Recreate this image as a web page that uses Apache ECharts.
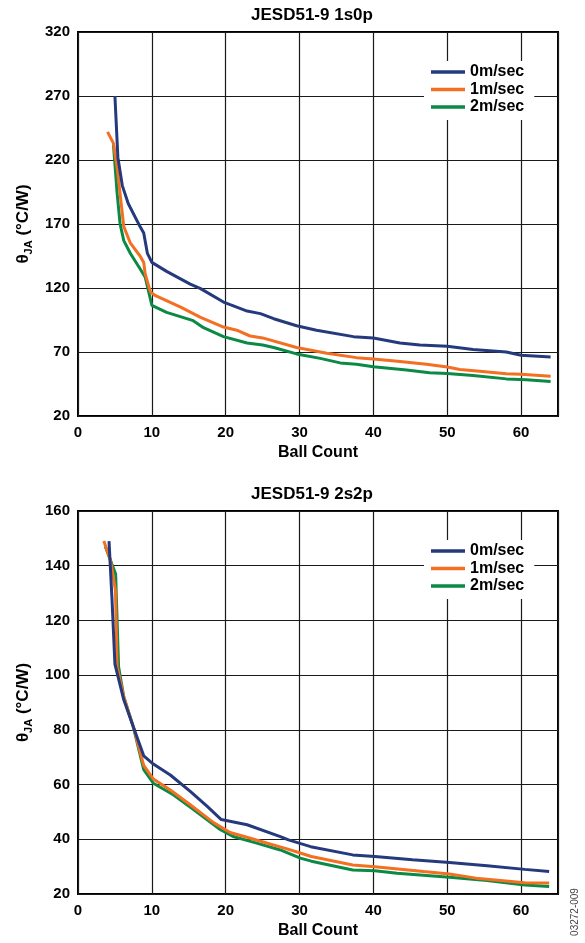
<!DOCTYPE html>
<html><head><meta charset="utf-8">
<script src="https://cdn.jsdelivr.net/npm/echarts@6/dist/echarts.min.js"></script>
<style>html,body{margin:0;padding:0;background:#fff}#c{width:585px;height:943px}</style>
</head><body><div id="c"></div>
<script>
// ---- data ----
const seriesNames = ['0m/sec', '1m/sec', '2m/sec'];
const seriesColors = ['#243a7d', '#f36f21', '#0a8a44'];
const chartTitles = ['JESD51-9 1s0p', 'JESD51-9 2s2p'];
const xAxisName = 'Ball Count';
const sideLabel = '03272-009';

// JESD51-9 1s0p  [ball count, thetaJA]
const top0 = [[5,270],[5.4,222],[6,200],[6.8,186],[8.4,168],[8.9,163],[9.4,147],[10,140],[12,133],[15.2,123],[16.6,119.5],[19.7,109],[20.6,107],[22.9,102],[24.7,100],[26.5,96],[29.6,90.5],[32.3,87],[37.3,82],[40,81],[43.6,77],[46.3,75.5],[50,74.5],[53.5,72],[58,70],[60,67.5],[64,66]];
const top1 = [[4,242],[4.8,233],[5.3,214],[6.2,168],[7.1,155],[8.4,145],[8.9,140],[9.1,131],[9.8,117],[10.5,114],[13.9,105],[16.6,97],[19.7,89.5],[21.5,87],[23.3,82.5],[25,81],[29.6,73.5],[33.7,69],[37.7,65.6],[40,64.5],[43.6,62.5],[47.2,60.4],[50,58.3],[51.7,56.3],[54.4,55],[58,53],[60,52.6],[64,51]];
const top2 = [[4.8,232],[5.3,194],[5.7,170],[6.2,157],[7.1,147],[8.4,135],[9.1,128.5],[10,106.5],[12,101],[15.6,94.5],[17,89],[19.7,82],[22.9,77],[25,75.5],[26.5,73.5],[29.6,68.5],[32.8,65],[35.5,61.5],[37.7,60.5],[40,58.5],[44.5,56],[47.6,53.8],[50,53.2],[53.5,51.6],[58,49],[60.7,48.4],[64,47]];

// JESD51-9 2s2p
const bot0 = [[4.2,149],[4.6,128],[5,104],[6.2,91],[7.5,81],[8.9,70.5],[10.2,67.5],[12.5,63.5],[15.2,57.5],[17.5,52],[19.4,47.2],[22.9,45.3],[27.4,41],[28.5,39.8],[31.5,37.3],[37.2,34.3],[40.2,33.7],[45.3,32.5],[50.3,31.5],[55.4,30.3],[60.5,29],[63.8,28.2]];
const bot1 = [[3.5,149],[4.4,142],[5.07,131],[5.3,103],[6.2,92],[7.5,81],[8.9,67],[10.2,62],[12.5,58],[15.2,52.6],[18.4,46],[20.6,42.5],[23.8,40],[28.3,36.5],[30.1,35],[31.6,33.7],[37.2,30.6],[40.2,30],[46.8,28.2],[50.3,27.3],[53.9,25.8],[60.5,24.1],[63.8,24]];
const bot2 = [[3.7,147],[4.6,140.5],[5.1,137],[5.2,128],[5.5,103],[6.2,92],[7.5,81],[8.9,65.5],[10.2,60.5],[12.9,56.3],[15.6,51],[19.3,43.5],[21,41],[24.2,38.6],[27.4,36.1],[30.1,33.1],[31.6,32],[37.2,28.8],[40.2,28.5],[43.2,27.6],[50.3,26.1],[55.4,24.9],[60.5,23.3],[63.8,22.7]];

const xRange = {min: 0, max: 65, interval: 10};
const yRanges = [{min: 20, max: 320, interval: 50}, {min: 20, max: 160, interval: 20}];

// ---- chart ----
const F = 'Arial, "Liberation Sans", sans-serif';
const gridTops = [32, 511];
const gridH = [384, 383];
const chart = echarts.init(document.getElementById('c'), null, {renderer: 'canvas'});

const grids = gridTops.map((t, i) => ({
  left: 78, top: t, width: 480, height: gridH[i],
  show: true, borderColor: '#000', borderWidth: 2, backgroundColor: 'transparent'
}));

const xAxes = [0, 1].map(i => ({
  type: 'value', gridIndex: i, min: xRange.min, max: xRange.max, interval: xRange.interval,
  name: xAxisName, nameLocation: 'middle', nameGap: 29,
  nameTextStyle: {fontFamily: F, fontSize: 16, fontWeight: 'bold', color: '#000'},
  axisLine: {show: false}, axisTick: {show: false},
  axisLabel: {showMaxLabel: false, margin: 9, fontFamily: F, fontSize: 15, fontWeight: 'bold', color: '#000'},
  splitLine: {show: true, lineStyle: {color: '#1a1a1a', width: 1.2}}
}));

const yName = '{a|θ}{b|JA}{a| (°C/W)}';
const yAxes = [0, 1].map(i => ({
  type: 'value', gridIndex: i, min: yRanges[i].min, max: yRanges[i].max, interval: yRanges[i].interval,
  name: yName, nameLocation: 'middle', nameGap: 43, nameRotate: 90,
  nameTextStyle: {
    rich: {
      a: {fontFamily: F, fontSize: 17, fontWeight: 'bold', color: '#000', lineHeight: 21},
      b: {fontFamily: F, fontSize: 11, fontWeight: 'bold', color: '#000', lineHeight: 11, verticalAlign: 'bottom'}
    }
  },
  axisLine: {show: false}, axisTick: {show: false},
  axisLabel: {margin: 8, fontFamily: F, fontSize: 15, fontWeight: 'bold', color: '#000'},
  splitLine: {show: true, lineStyle: {color: '#1a1a1a', width: 1.2}}
}));

const dataSets = [[top0, top1, top2], [bot0, bot1, bot2]];
const series = [];
[0, 1].forEach(g => {
  [2, 1, 0].forEach(k => {
    series.push({
      type: 'line', name: seriesNames[k], xAxisIndex: g, yAxisIndex: g,
      data: dataSets[g][k], symbol: 'none', smooth: false, z: 3 + (2 - k),
      lineStyle: {color: seriesColors[k], width: 3},
      itemStyle: {color: seriesColors[k]}
    });
  });
});

const legends = gridTops.map(t => ({
  orient: 'vertical', left: 424, top: t + 29, data: seriesNames,
  icon: 'rect', itemWidth: 34, itemHeight: 3.5, itemGap: 1.5,
  padding: [3, 10, 5, 7], backgroundColor: '#fff',
  textStyle: {fontFamily: F, fontSize: 16, fontWeight: 'bold', color: '#000', lineHeight: 15},
  selectedMode: false
}));

const graphics = chartTitles.map((txt, i) => ({
  type: 'text', x: 312, y: gridTops[i] - 17, z: 10,
  style: {text: txt, fontFamily: F, fontSize: 17, fontWeight: 'bold', fill: '#000', textAlign: 'center', textVerticalAlign: 'middle'}
}));
graphics.push({
  type: 'text', x: 575, y: 912, rotation: Math.PI / 2, z: 10,
  style: {text: sideLabel, fontFamily: F, fontSize: 10, fill: '#444', textAlign: 'center', textVerticalAlign: 'middle'}
});

chart.setOption({
  animation: false,
  backgroundColor: '#fff',
  grid: grids, xAxis: xAxes, yAxis: yAxes, series: series,
  legend: legends, graphic: graphics
});
</script></body></html>
